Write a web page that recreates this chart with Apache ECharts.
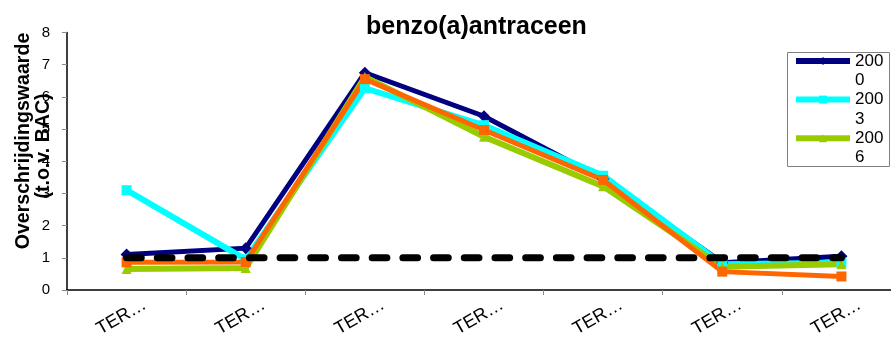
<!DOCTYPE html>
<html>
<head>
<meta charset="utf-8">
<script src="https://cdn.jsdelivr.net/npm/echarts@6/dist/echarts.min.js"></script>
<style>
  html, body { margin: 0; padding: 0; background: #fff; }
  #chart { width: 891px; height: 338px; }
</style>
</head>
<body>
<div id="chart"></div>
<script>
// Sampling locations (labels are truncated on the axis)
const categories = ['TER…', 'TER…', 'TER…', 'TER…', 'TER…', 'TER…', 'TER…'];

// Exceedance values relative to the BAC, per survey year
const years = ['2000', '2003', '2006', '2009'];
const values2000 = [1.1, 1.3, 6.75, 5.4, 3.45, 0.85, 1.05];
const values2003 = [3.1, 0.95, 6.27, 5.12, 3.55, 0.8, 0.85];
const values2006 = [0.65, 0.68, 6.62, 4.76, 3.22, 0.72, 0.8];
const values2009 = [0.86, 0.87, 6.55, 4.97, 3.42, 0.57, 0.42];

// BAC reference level
const bacLevel = [1, 1, 1, 1, 1, 1, 1];

// Y-axis tick range
const yTicks = { min: 0, max: 8, step: 1 };

const font = '"Liberation Sans", Arial, sans-serif';

const chart = echarts.init(document.getElementById('chart'), null, { renderer: 'canvas' });

function yearSeries(name, data, color, symbol, symbolSize, width) {
  return {
    name: name,
    type: 'line',
    data: data,
    symbol: symbol,
    symbolSize: symbolSize,
    showSymbol: true,
    lineStyle: { color: color, width: width, join: 'miter' },
    itemStyle: { color: color, borderWidth: 0 },
    emphasis: { disabled: true },
    animation: false
  };
}

// Legend labels wrap the year over two lines; a leading blank line keeps
// the first line level with the legend swatch.
const legendLine = 19.3;

const option = {
  animation: false,
  backgroundColor: '#ffffff',
  title: {
    text: 'benzo(a)antraceen',
    left: 366,
    top: 15,
    padding: 0,
    textStyle: { fontFamily: font, fontSize: 25, fontWeight: 'bold', color: '#000' }
  },
  grid: {
    left: 67, top: 32.5, width: 834, height: 257.5,
    containLabel: false,
    outerBoundsMode: 'none'
  },
  legend: {
    data: years.slice(0, 3),
    orient: 'vertical',
    left: 793,
    top: 61 - 1.5 * legendLine,
    padding: 0,
    itemGap: -legendLine,
    itemWidth: 54,
    itemHeight: 10,
    lineStyle: { width: 6 },
    formatter: function (name) { return '\n' + name.slice(0, 3) + '\n' + name.slice(3); },
    textStyle: { fontFamily: font, fontSize: 17, color: '#000', lineHeight: legendLine }
  },
  xAxis: {
    type: 'category',
    data: categories,
    boundaryGap: true,
    axisLine: { lineStyle: { color: '#000', width: 1.5 } },
    axisTick: { show: true, length: 5, lineStyle: { color: '#888', width: 1 } },
    axisLabel: {
      rotate: 30,
      interval: 0,
      margin: 24,
      align: 'center',
      verticalAlign: 'middle',
      padding: [0, 12, 0, 0],
      fontFamily: font,
      fontSize: 18,
      color: '#000'
    },
    splitLine: { show: false }
  },
  yAxis: {
    type: 'value',
    min: yTicks.min,
    max: yTicks.max,
    interval: yTicks.step,
    axisLine: { show: true, lineStyle: { color: '#000', width: 1.5 } },
    axisTick: { show: true, length: 5, lineStyle: { color: '#888', width: 1 } },
    axisLabel: { margin: 17, fontFamily: font, fontSize: 15, color: '#000' },
    splitLine: { show: false }
  },
  graphic: [
    {
      type: 'text',
      x: 24, y: 141,
      rotation: Math.PI / 2,
      style: {
        text: 'Overschrijdingswaarde',
        fontFamily: font, fontSize: 19.6, fontWeight: 'bold', fill: '#000',
        align: 'center', verticalAlign: 'middle'
      },
      z: 10
    },
    {
      type: 'text',
      x: 44, y: 146,
      rotation: Math.PI / 2,
      style: {
        text: '(t.o.v. BAC)',
        fontFamily: font, fontSize: 19.6, fontWeight: 'bold', fill: '#000',
        align: 'center', verticalAlign: 'middle'
      },
      z: 10
    },
    {
      type: 'rect',
      shape: { x: 787.5, y: 52.5, width: 102, height: 114 },
      style: { fill: '#fff', stroke: '#808080', lineWidth: 1 },
      z: -1
    }
  ],
  series: [
    yearSeries(years[0], values2000, '#000080', 'diamond', 12, 5),
    yearSeries(years[1], values2003, '#00FFFF', 'rect', 10, 6),
    yearSeries(years[2], values2006, '#99CC00', 'triangle', 10, 6),
    yearSeries(years[3], values2009, '#FF6600', 'rect', 10, 5),
    {
      name: 'BAC',
      type: 'line',
      data: bacLevel,
      symbol: 'none',
      lineStyle: { color: '#000', width: 7, type: [14.7, 16], cap: 'round' },
      emphasis: { disabled: true },
      z: 5,
      animation: false
    }
  ]
};

chart.setOption(option);
</script>
</body>
</html>
